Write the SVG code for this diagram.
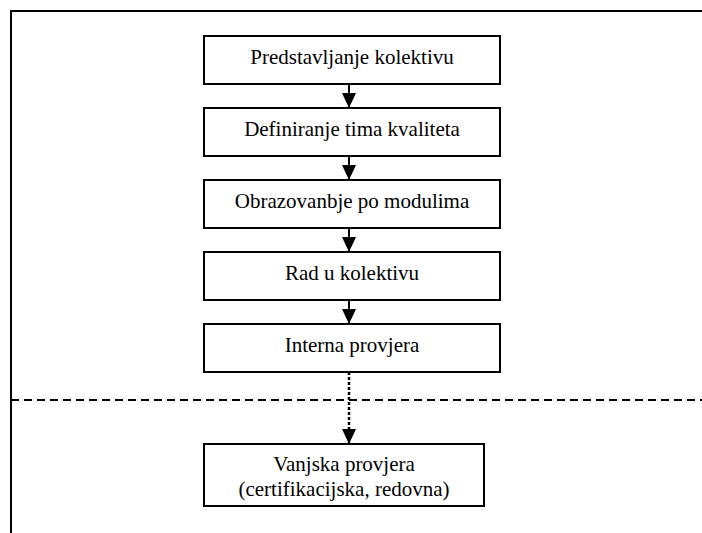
<svg xmlns="http://www.w3.org/2000/svg" width="702" height="533" viewBox="0 0 702 533">
<style>
.box{fill:#fff;stroke:#000;stroke-width:2}
.t{font-family:'Liberation Serif','Times New Roman',serif;font-size:21px;fill:#000;text-anchor:middle}
.c{stroke:#000;stroke-width:2;fill:none}
.dot{stroke-width:2.5;stroke-dasharray:3 2}
.frame{stroke:#000;stroke-width:2;fill:none}
</style>
<defs>
<marker id="ah" markerWidth="15" markerHeight="14" refX="15" refY="7" orient="auto" markerUnits="userSpaceOnUse">
<path d="M0,0 L15,7 L0,14 Z" fill="#000"/>
</marker>
</defs>
<rect width="702" height="533" fill="#fff"/>
<path class="frame" d="M11,533 V11 H702"/>
<line x1="11" y1="400" x2="702" y2="400" stroke="#000" stroke-width="2" stroke-dasharray="8 5"/>
<g id="connectors">
<line class="c" x1="349" y1="84" x2="349" y2="108" marker-end="url(#ah)"/>
<line class="c" x1="349" y1="156" x2="349" y2="180" marker-end="url(#ah)"/>
<line class="c" x1="349" y1="228" x2="349" y2="252" marker-end="url(#ah)"/>
<line class="c" x1="349" y1="300" x2="349" y2="324" marker-end="url(#ah)"/>
<line class="c dot" x1="349" y1="372" x2="349" y2="444" marker-end="url(#ah)"/>
</g>
<g id="n1"><rect class="box" x="204" y="36" width="296" height="48"/><text class="t" x="352" y="64">Predstavljanje kolektivu</text></g>
<g id="n2"><rect class="box" x="204" y="108" width="296" height="48"/><text class="t" x="352" y="136">Definiranje tima kvaliteta</text></g>
<g id="n3"><rect class="box" x="204" y="180" width="296" height="48"/><text class="t" x="352" y="208">Obrazovanbje po modulima</text></g>
<g id="n4"><rect class="box" x="204" y="252" width="296" height="48"/><text class="t" x="352" y="280">Rad u kolektivu</text></g>
<g id="n5"><rect class="box" x="204" y="324" width="296" height="48"/><text class="t" x="352" y="352">Interna provjera</text></g>
<g id="n6"><rect class="box" x="204" y="444" width="280" height="62"/><text class="t" x="344" y="471">Vanjska provjera</text><text class="t" x="344" y="496">(certifikacijska, redovna)</text></g>
</svg>
